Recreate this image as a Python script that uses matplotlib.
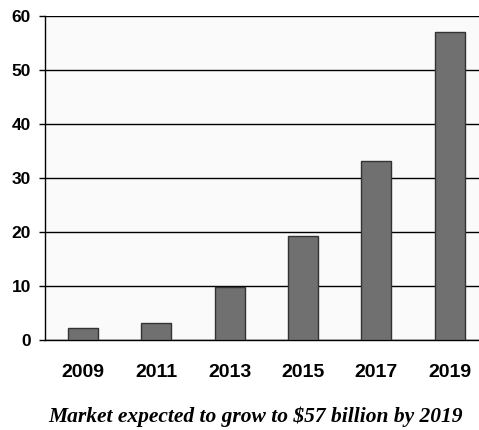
import matplotlib.pyplot as plt
import numpy as np

# market size, billions of dollars
years = ['2009', '2011', '2013', '2015', '2017', '2019']
market = [2.2, 3.1, 9.9, 19.2, 33.2, 57.0]
caption = 'Market expected to grow to $57 billion by 2019'

fig = plt.figure(figsize=(4.79, 4.30), dpi=100)
ax = fig.add_axes([45 / 479, 90 / 430, 434 / 479, 324 / 430])
ax.set_facecolor('#fafafa')

x = np.arange(len(years))
ax.bar(x, market, width=0.41, color='#707070', edgecolor='#333333', linewidth=1, zorder=3)

ax.set_ylim(0, 60)
ax.set_yticks(range(0, 61, 10))
ax.set_xlim(-0.52, 5.4)
ax.set_xticks(x)
ax.set_xticklabels(years)
ax.yaxis.grid(True, color='black', linewidth=1, zorder=0)

for side in ['top', 'right']:
    ax.spines[side].set_visible(False)
ax.spines['left'].set_linewidth(1)
ax.spines['bottom'].set_linewidth(1)

ax.tick_params(axis='y', length=4, width=1, pad=6)
ax.tick_params(axis='x', length=0, pad=17)
for lab in ax.get_yticklabels():
    lab.set_fontfamily('Liberation Sans')
    lab.set_fontweight('bold')
    lab.set_fontsize(12.5)
for lab in ax.get_xticklabels():
    lab.set_fontfamily('Liberation Sans')
    lab.set_fontweight('bold')
    lab.set_fontsize(14)

fig.text(256 / 479, 1 - 417 / 430, caption, ha='center', va='center',
         fontfamily='Liberation Serif', fontweight='bold', fontstyle='italic', fontsize=15.5)

fig.savefig('out.png', dpi=100)
